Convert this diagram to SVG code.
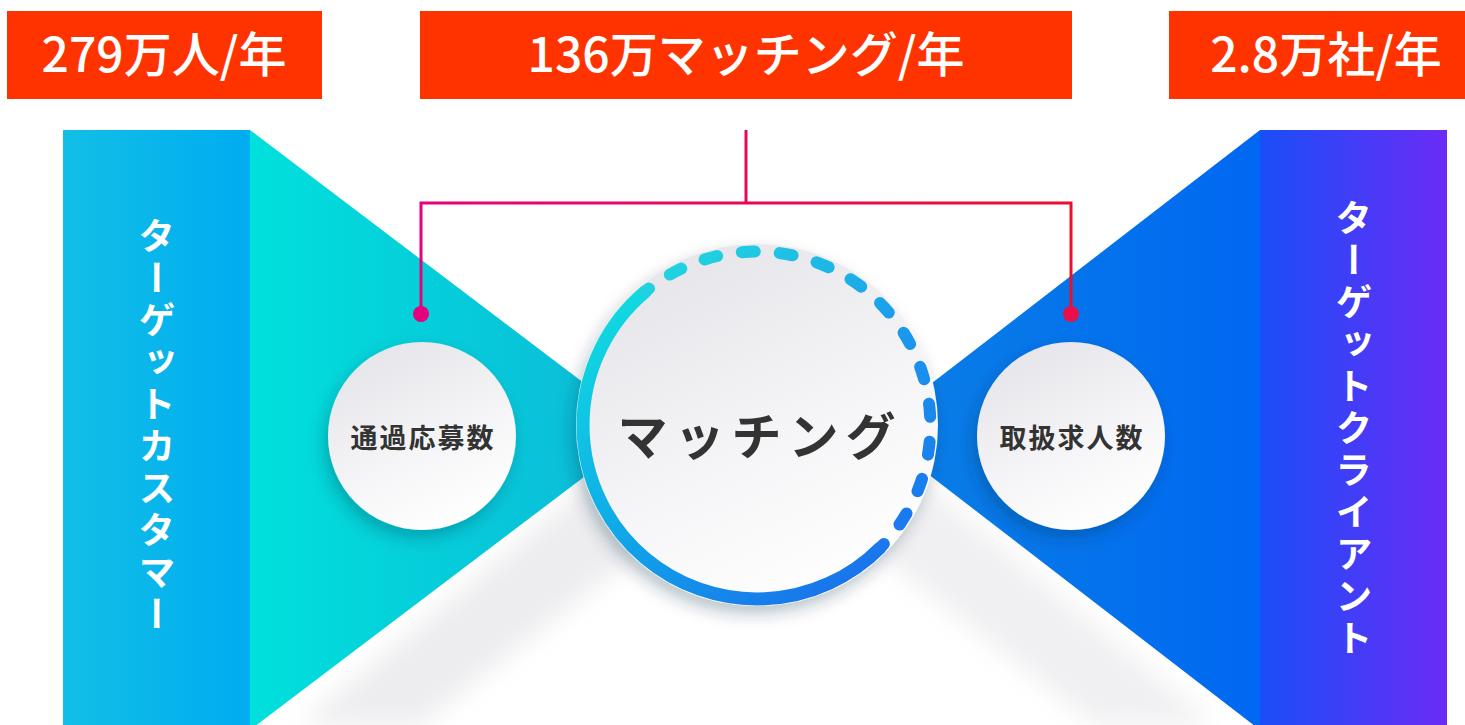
<svg xmlns="http://www.w3.org/2000/svg" width="1465" height="725" viewBox="0 0 1465 725">
<defs>
<style>
.lbl{font-family:"Noto Sans CJK JP","Noto Sans",sans-serif;fill:#fff;font-weight:500;font-size:48px;text-anchor:middle}
.vt{font-family:"Noto Sans CJK JP",sans-serif;fill:#fff;font-weight:700;font-size:37px;writing-mode:vertical-rl;text-anchor:middle;letter-spacing:5px}
.sm{font-family:"Noto Sans CJK JP",sans-serif;fill:#333;font-weight:700;font-size:27px;text-anchor:middle;letter-spacing:2px}
.big{font-family:"Noto Sans CJK JP",sans-serif;fill:#333;font-weight:700;font-size:50px;text-anchor:middle;letter-spacing:7px}
.box{fill:#ff3300}
</style>
<linearGradient id="lbar" x1="0" y1="0" x2="1" y2="0"><stop offset="0" stop-color="#12bfe6"/><stop offset="1" stop-color="#00acf0"/></linearGradient>
<linearGradient id="ltri" gradientUnits="userSpaceOnUse" x1="250" y1="0" x2="646" y2="0"><stop offset="0" stop-color="#00e0dc"/><stop offset="1" stop-color="#0cb8d8"/></linearGradient>
<linearGradient id="rbar" x1="0" y1="0" x2="1" y2="0"><stop offset="0" stop-color="#1a4ef8"/><stop offset="1" stop-color="#6a2cf6"/></linearGradient>
<linearGradient id="rtri" gradientUnits="userSpaceOnUse" x1="871" y1="0" x2="1260" y2="0"><stop offset="0" stop-color="#0a80e4"/><stop offset="1" stop-color="#0068f2"/></linearGradient>
<linearGradient id="pink" gradientUnits="userSpaceOnUse" x1="420" y1="0" x2="1072" y2="0"><stop offset="0" stop-color="#e6007e"/><stop offset="1" stop-color="#e8102c"/></linearGradient>
<linearGradient id="disk" x1="0.2" y1="0" x2="0.7" y2="1"><stop offset="0" stop-color="#e4e4e9"/><stop offset="0.6" stop-color="#f6f6f8"/><stop offset="1" stop-color="#ffffff"/></linearGradient>
<linearGradient id="solid" gradientUnits="userSpaceOnUse" x1="640" y1="280" x2="860" y2="600"><stop offset="0" stop-color="#10dbe0"/><stop offset="0.5" stop-color="#10a8e8"/><stop offset="1" stop-color="#1a6eec"/></linearGradient>
<linearGradient id="dash" gradientUnits="userSpaceOnUse" x1="680" y1="250" x2="900" y2="560"><stop offset="0" stop-color="#20d6e0"/><stop offset="0.5" stop-color="#1a9aec"/><stop offset="1" stop-color="#1a74ee"/></linearGradient>
<filter id="ds" x="-30%" y="-30%" width="160%" height="160%"><feDropShadow dx="-4" dy="8" stdDeviation="8" flood-color="#003040" flood-opacity="0.28"/></filter>
<filter id="bl" x="-20%" y="-20%" width="140%" height="140%"><feGaussianBlur stdDeviation="12"/></filter>
</defs>
<rect width="1465" height="725" fill="#fff"/>

<g id="top-labels">
<g id="label-customers"><rect class="box" x="7" y="11" width="315" height="88"/><text class="lbl" x="164" y="72">279万人/年</text></g>
<g id="label-matching"><rect class="box" x="420" y="11" width="652" height="88"/><text class="lbl" x="746" y="72">136万マッチング/年</text></g>
<g id="label-clients"><rect class="box" x="1169" y="11" width="296" height="88"/><text class="lbl" x="1326" y="72">2.8万社/年</text></g>
</g>

<g id="shadows">
<polygon points="630,450 300,725 420,725 680,520" fill="#c4c4cc" opacity="0.3" filter="url(#bl)"/>
<polygon points="885,450 1215,725 1095,725 835,520" fill="#c4c4cc" opacity="0.25" filter="url(#bl)"/>
</g>

<g id="left-side">
<polygon points="250,130 646,430 250,730" fill="url(#ltri)"/>
<rect x="63" y="130" width="187" height="595" fill="url(#lbar)"/>
<text class="vt" x="157" y="427">ターゲットカスタマー</text>
</g>

<g id="right-side">
<polygon points="1260,130 871,430 1260,730" fill="url(#rtri)"/>
<rect x="1260" y="130" width="187" height="595" fill="url(#rbar)"/>
<text class="vt" x="1354" y="430">ターゲットクライアント</text>
</g>

<g id="connectors" fill="none" stroke="url(#pink)" stroke-width="3">
<path d="M746,130 V203"/>
<path d="M421,314 V203 H1071 V314"/>
<circle cx="421" cy="314" r="8" fill="#e6007e" stroke="none"/>
<circle cx="1071" cy="314" r="8" fill="#e8104a" stroke="none"/>
</g>

<g id="node-applications">
<circle cx="422" cy="436" r="94" fill="url(#disk)" filter="url(#ds)"/>
<text class="sm" x="423" y="448">通過応募数</text>
</g>

<g id="node-jobs">
<circle cx="1071" cy="436" r="94" fill="url(#disk)" filter="url(#ds)"/>
<text class="sm" x="1072" y="448">取扱求人数</text>
</g>

<g id="node-matching">
<circle cx="757" cy="425" r="181" fill="url(#disk)" filter="url(#ds)"/>
<path d="M880.0,548.0 A174,174 0 0 1 645.2,558.3 A174,174 0 0 1 645.2,291.7" fill="none" stroke="url(#solid)" stroke-width="13" stroke-linecap="round"/>
<path d="M645.2,291.7 A174,174 0 0 1 880.0,548.0" fill="none" stroke="url(#dash)" stroke-width="12" stroke-linecap="round" stroke-dasharray="13 25" stroke-dashoffset="-30"/>
<text class="big" x="760" y="455">マッチング</text>
</g>
</svg>
